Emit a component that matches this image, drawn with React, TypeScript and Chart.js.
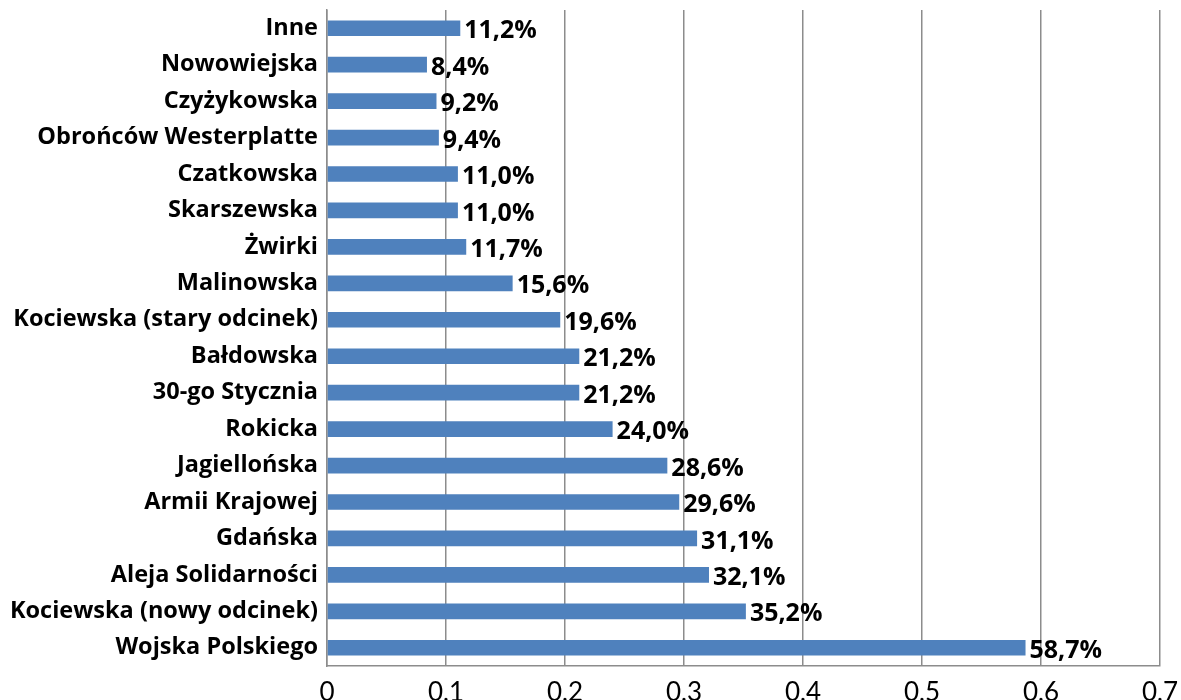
import React, { useEffect, useRef } from "react";
import { Chart, registerables } from "chart.js";

Chart.register(...registerables);

const categories: string[] = [
  "Inne",
  "Nowowiejska",
  "Czyżykowska",
  "Obrońców Westerplatte",
  "Czatkowska",
  "Skarszewska",
  "Żwirki",
  "Malinowska",
  "Kociewska (stary odcinek)",
  "Bałdowska",
  "30-go Stycznia",
  "Rokicka",
  "Jagiellońska",
  "Armii Krajowej",
  "Gdańska",
  "Aleja Solidarności",
  "Kociewska (nowy odcinek)",
  "Wojska Polskiego",
];

const shares: number[] = [
  0.112, 0.084, 0.092, 0.094, 0.11, 0.11, 0.117, 0.156, 0.196, 0.212, 0.212,
  0.24, 0.286, 0.296, 0.311, 0.321, 0.352, 0.587,
];

const xTickValues: number[] = [0, 0.1, 0.2, 0.3, 0.4, 0.5, 0.6, 0.7];

const FONT = "'Open Sans', Lato, sans-serif";

const fmtPct = (v: number) => (v * 100).toFixed(1).replace(".", ",") + "%";
const fmtTick = (v: number) => (v === 0 ? "0" : v.toFixed(1).replace(".", ","));

const valueLabels = {
  id: "valueLabels",
  afterDatasetsDraw(chart: any) {
    const ctx = chart.ctx;
    const meta = chart.getDatasetMeta(0);
    ctx.save();
    ctx.font = `bold 25px ${FONT}`;
    ctx.fillStyle = "#000";
    ctx.textAlign = "left";
    ctx.textBaseline = "middle";
    meta.data.forEach((bar: any, i: number) => {
      ctx.fillText(fmtPct(shares[i]), bar.x + 4, bar.y + 3);
    });
    ctx.restore();
  },
};

export default function App() {
  const ref = useRef<HTMLCanvasElement | null>(null);
  useEffect(() => {
    if (!ref.current) return;
    const chart = new Chart(ref.current, {
      type: "bar",
      data: {
        labels: categories,
        datasets: [
          {
            data: shares,
            backgroundColor: "#4F81BD",
            barPercentage: 0.43,
            categoryPercentage: 1,
          },
        ],
      },
      options: {
        indexAxis: "y",
        animation: false,
        responsive: false,
        maintainAspectRatio: false,
        layout: { padding: { top: 10, right: 21, left: 0, bottom: 0 } },
        plugins: {
          legend: { display: false },
          tooltip: { enabled: false },
        },
        scales: {
          x: {
            min: 0,
            max: 0.7,
            afterBuildTicks: (scale: any) => {
              scale.ticks = xTickValues.map((v) => ({ value: v }));
            },
            ticks: {
              callback: (v: any) => fmtTick(Number(v)),
              color: "#000",
              font: { family: "Lato, sans-serif", size: 26 },
              padding: 11,
              maxRotation: 0,
            },
            grid: {
              color: "#8c8c8c",
              lineWidth: 1.5,
              drawTicks: false,
            },
            border: { color: "#8c8c8c", width: 1.5 },
            afterFit: (scale: any) => {
              scale.height = 34;
              scale.paddingLeft = 0;
              scale.paddingRight = 0;
            },
          },
          y: {
            ticks: {
              color: "#000",
              font: { family: FONT, size: 23.5, weight: "bold" },
              padding: 9,
              autoSkip: false,
            },
            grid: { display: false, drawTicks: false },
            border: { color: "#8c8c8c", width: 1.5 },
            afterFit: (scale: any) => {
              scale.width = 327;
              scale.paddingTop = 0;
              scale.paddingBottom = 0;
            },
          },
        },
      },
      plugins: [valueLabels],
    });
    return () => chart.destroy();
  }, []);
  return (
    <div style={{ position: "fixed", left: 0, top: 0, width: 1181, height: 700, background: "#fff" }}>
      <canvas ref={ref} width={1181} height={700} style={{ width: 1181, height: 700 }} />
    </div>
  );
}
